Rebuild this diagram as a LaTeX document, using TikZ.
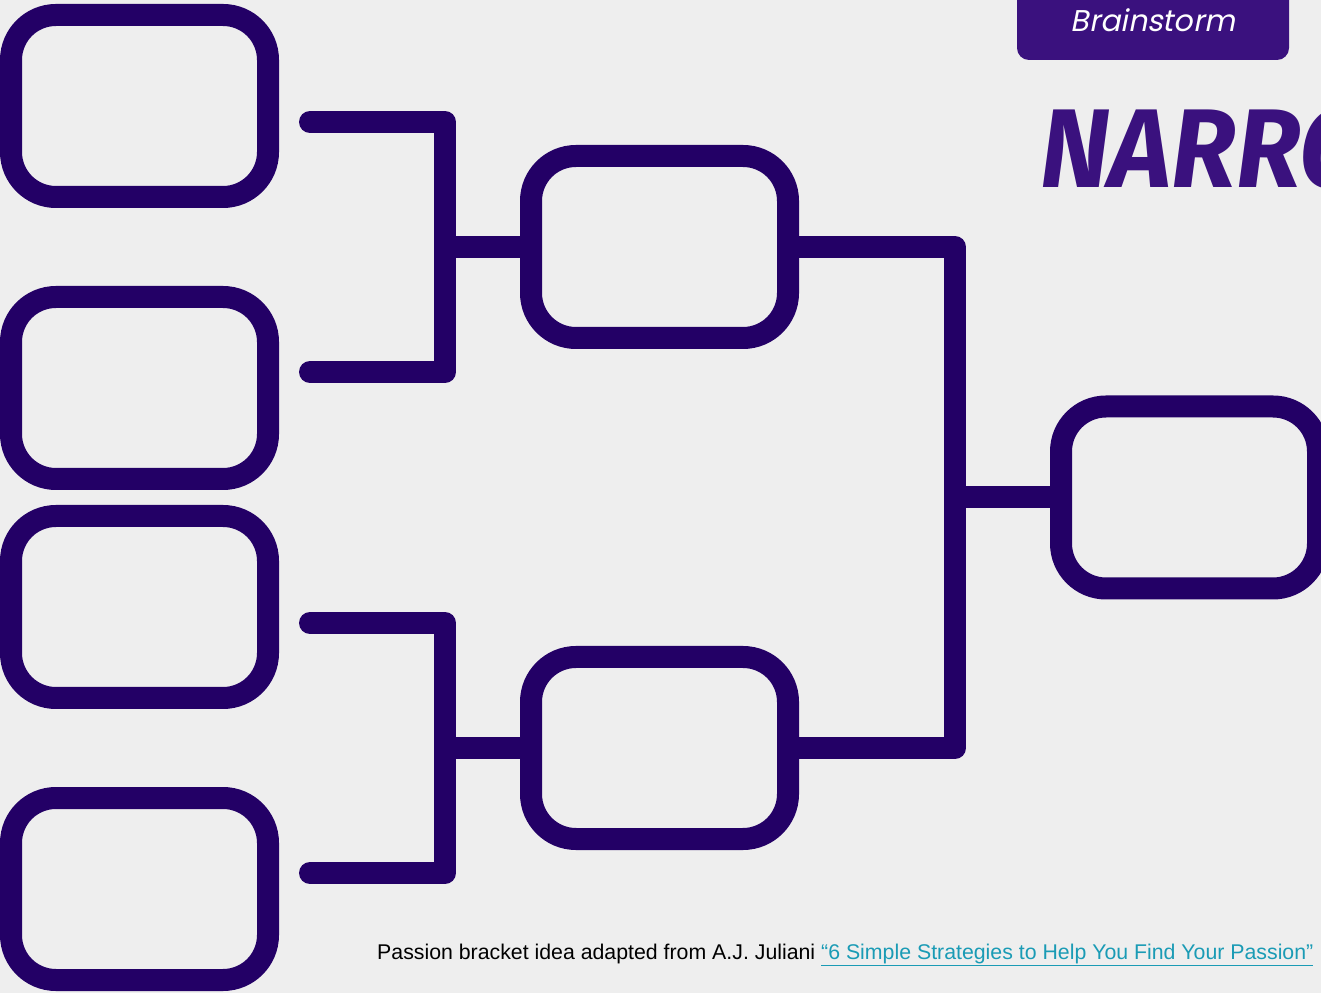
\documentclass[tikz,border=0pt]{standalone}
\usepackage{fontspec}
\setmainfont{Liberation Sans}
\newfontfamily\tabfont{Poppins}[FakeSlant=0.2]
\newfontfamily\titlefont{Fira Sans}
\usepackage{tikz}
\usetikzlibrary{positioning,calc}
\definecolor{bracketpurple}{HTML}{230066}
\definecolor{tabpurple}{HTML}{3A117E}
\definecolor{bggray}{HTML}{EEEEEE}
\definecolor{linkteal}{HTML}{1A9BB5}

\begin{document}
\begin{tikzpicture}[
    x=1pt, y=1pt,
    node distance=282pt,
    slot/.style={rectangle, draw=bracketpurple, line width=22pt, rounded corners=45pt, minimum width=257pt, minimum height=182pt, inner sep=0pt},
    link/.style={draw=bracketpurple, line width=22pt, line cap=round, line join=round}
]
\fill[bggray] (0,0) rectangle (1321,993);
\useasboundingbox (0,0) rectangle (1321,993);
\clip (0,0) rectangle (1321,993);

% First round
\node[slot] (seedA) at (139.5,887) {};
\node[slot, below of=seedA] (seedB) {};
\node[slot, below of=seedB, yshift=63pt] (seedC) {};
\node[slot, below of=seedC] (seedD) {};

% Second round and final
\node[slot] (semiA) at (659.5,746) {};
\node[slot, below of=semiA, node distance=501pt] (semiB) {};
\node[slot] (final) at (1189.5,495.5) {};

% Bracket ends
\coordinate (tipA) at ([xshift=31pt, yshift=-16pt]seedA.east);
\coordinate (tipB) at ([xshift=31pt, yshift=16pt]seedB.east);
\coordinate (tipC) at ([xshift=31pt, yshift=-16pt]seedC.east);
\coordinate (tipD) at ([xshift=31pt, yshift=16pt]seedD.east);
\coordinate (joinA) at ($(seedA.east)+(166pt,0)$);
\coordinate (joinB) at ($(seedC.east)+(166pt,0)$);
\coordinate (joinC) at ($(semiA.east)+(156pt,0)$);

% Connections
\draw[link] (tipA) -| (joinA |- tipB) -- (tipB);
\draw[link] (joinA |- semiA.west) -- (semiA.west);
\draw[link] (tipC) -| (joinB |- tipD) -- (tipD);
\draw[link] (joinB |- semiB.west) -- (semiB.west);
\draw[link] (semiA.east) -| (joinC |- semiB.east) -- (semiB.east);
\draw[link] (joinC |- final.west) -- (final.west);

% Heading
\fill[tabpurple, rounded corners=12pt] (1017,933) rectangle (1289,1010);
\node[text=white, font=\tabfont\fontsize{30}{34}\selectfont] (tab) at (1153,973) {Brainstorm};
\node[anchor=base west, inner sep=0pt, text=tabpurple, font=\titlefont\bfseries\itshape\fontsize{112}{120}\selectfont, xscale=0.95, transform shape] (title) at (1040,805) {NARRO};

% Credit line
\node[anchor=base west, inner sep=0pt, font=\fontsize{21.3}{24}\selectfont] (credit) at (377,34) {Passion bracket idea adapted from A.J. Juliani \textcolor{linkteal}{\underline{“6 Simple Strategies to Help You Find Your Passion”}}};
\end{tikzpicture}
\end{document}
